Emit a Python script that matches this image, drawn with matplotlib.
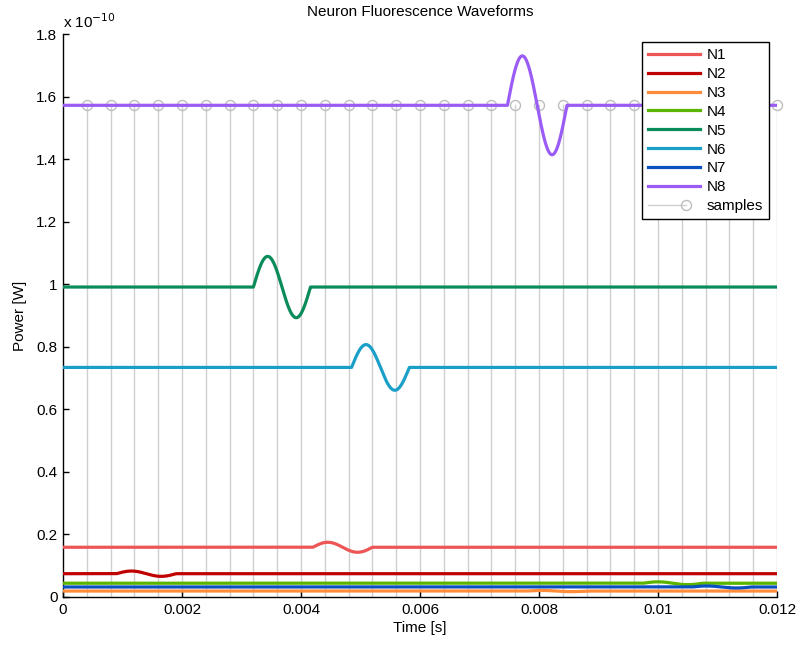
import numpy as np
import matplotlib
matplotlib.use('Agg')
import matplotlib.pyplot as plt
from matplotlib.lines import Line2D
from matplotlib.legend_handler import HandlerBase
from matplotlib.ticker import FixedLocator, FixedFormatter

plt.rcParams['font.family'] = ['Liberation Sans', 'DejaVu Sans']

# ---- data (power in units of 1e-10 W, time in s) ----
names = ['N1', 'N2', 'N3', 'N4', 'N5', 'N6', 'N7', 'N8']
colors = ['#EE5555', '#C00000', '#FF8C3A', '#5BB400', '#0A8C5A', '#1AA0C8', '#0A50C0', '#9B5CF6']
baseline = [0.159, 0.0745, 0.019, 0.044, 0.991, 0.734, 0.032, 1.572]
amplitude = [0.016, 0.0085, 0.0019, 0.0045, 0.098, 0.073, 0.0032, 0.158]
onset = [0.0042, 0.0009, 0.0078, 0.00975, 0.0032, 0.00485, 0.01057, 0.00747]
duration = [0.001, 0.001, 0.001, 0.001, 0.00096, 0.00097, 0.001, 0.001]
sample_times = [0.0004, 0.0008, 0.0012, 0.0016, 0.0020, 0.0024, 0.0028, 0.0032,
                0.0036, 0.0040, 0.0044, 0.0048, 0.0052, 0.0056, 0.0060, 0.0064,
                0.0068, 0.0072, 0.0076, 0.0080, 0.0084, 0.0088, 0.0092, 0.0096,
                0.0100, 0.0104, 0.0108, 0.0112, 0.0116, 0.0120]
sample_level = 1.572
scale = 1e-10
x_ticks = [0, 0.002, 0.004, 0.006, 0.008, 0.010, 0.012]
x_tick_labels = ['0', '0.002', '0.004', '0.006', '0.008', '0.01', '0.012']
y_ticks = [0, 0.2, 0.4, 0.6, 0.8, 1.0, 1.2, 1.4, 1.6, 1.8]
y_tick_labels = ['0', '0.2', '0.4', '0.6', '0.8', '1', '1.2', '1.4', '1.6', '1.8']

FS = 11

fig = plt.figure(figsize=(8, 6.46), dpi=100)
ax = fig.add_axes([63 / 800, 49 / 646, 714 / 800, 563 / 646])

# samples (stems)
stem_color = '#CFCFCF'
for ts in sample_times:
    ax.plot([ts, ts], [0, sample_level * scale], color=stem_color, lw=1.0, zorder=1)
ax.plot(sample_times, [sample_level * scale] * len(sample_times), ls='none', marker='o',
        ms=7.2, mfc='none', mec='#BDBDBD', mew=1.0, zorder=1.5, clip_on=False)

# waveforms: baseline with a single-cycle burst
t = np.linspace(x_ticks[0], x_ticks[-1], 4801)
for n, c, b, a, t0, T in zip(names, colors, baseline, amplitude, onset, duration):
    y = np.full_like(t, b)
    m = (t >= t0) & (t <= t0 + T)
    y[m] = b + a * np.sin(2 * np.pi * (t[m] - t0) / T)
    ax.plot(t, y * scale, color=c, lw=2.3, zorder=3, solid_capstyle='butt')

ax.set_xlim(x_ticks[0], x_ticks[-1])
ax.set_ylim(y_ticks[0] * scale, y_ticks[-1] * scale)
ax.xaxis.set_major_locator(FixedLocator(x_ticks))
ax.xaxis.set_major_formatter(FixedFormatter(x_tick_labels))
ax.yaxis.set_major_locator(FixedLocator([v * scale for v in y_ticks]))
ax.yaxis.set_major_formatter(FixedFormatter(y_tick_labels))
for s in ['top', 'right']:
    ax.spines[s].set_visible(False)
for s in ['left', 'bottom']:
    ax.spines[s].set_linewidth(1.0)
ax.tick_params(direction='in', length=4, width=1, labelsize=FS, pad=4)

ax.text(0, 1.006, r'x 10$^{-10}$', transform=ax.transAxes, fontsize=FS,
        ha='left', va='bottom')
ax.set_title('Neuron Fluorescence Waveforms', fontsize=FS, pad=13)
ax.set_xlabel('Time [s]', fontsize=FS, labelpad=3)
ax.set_ylabel('Power [W]', fontsize=FS, labelpad=7)


class SampleHandler(HandlerBase):
    def create_artists(self, legend, orig, xd, yd, w, h, fs, trans):
        yc = h / 2 - yd
        ln = Line2D([-xd, -xd + w * 0.72], [yc, yc], color=stem_color, lw=1.0)
        mk = Line2D([-xd + w * 0.72], [yc], ls='none', marker='o', ms=7.2, mfc='none',
                    mec='#BDBDBD', mew=1.0)
        ln.set_transform(trans)
        mk.set_transform(trans)
        return [ln, mk]


handles = [Line2D([], [], color=c, lw=2.3) for c in colors]
sample_handle = Line2D([], [], color=stem_color)
handles.append(sample_handle)
labels = names + ['samples']
leg = ax.legend(handles, labels, loc='upper right',
                bbox_to_anchor=(1 - 8 / 714, 1 - 8 / 563), borderaxespad=0,
                fontsize=FS, handlelength=3.4, handletextpad=0.4,
                labelspacing=0.32, borderpad=0.4, fancybox=False, framealpha=1,
                edgecolor='black', handler_map={sample_handle: SampleHandler()})
leg.get_frame().set_linewidth(1.0)

fig.savefig('out.png', dpi=100)
